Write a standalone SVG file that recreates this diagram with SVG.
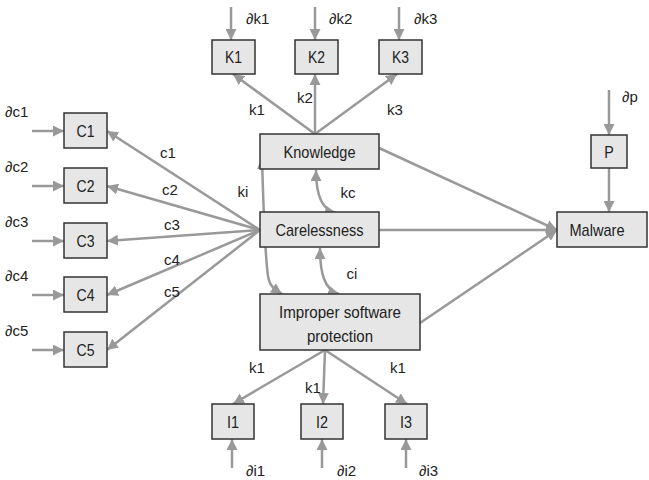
<svg xmlns="http://www.w3.org/2000/svg" width="649" height="480" viewBox="0 0 649 480">
<defs>
<marker id="ah" viewBox="0 0 10 10" refX="10" refY="5" markerWidth="11" markerHeight="11" markerUnits="userSpaceOnUse" orient="auto-start-reverse"><path d="M0,0 L10,5 L0,10 z" fill="#999"/></marker>
<style>
.box{fill:#e6e6e6;stroke:#333;stroke-width:1.5}
.t{font-family:"Liberation Sans",Arial,sans-serif;font-size:17px;fill:#222;text-anchor:middle}
.l{font-family:"Liberation Sans",Arial,sans-serif;font-size:15px;fill:#222}
.c{font-family:"Liberation Sans",Arial,sans-serif;font-size:15px;fill:#222;text-anchor:middle}
.e{fill:none;stroke:#999;stroke-width:2.5;marker-end:url(#ah)}
.b{fill:none;stroke:#999;stroke-width:2.5;marker-end:url(#ah);marker-start:url(#ah)}
</style>
</defs>
<rect width="649" height="480" fill="#fff"/>
<g id="connectors">
<path class="e" d="M231,7 L231,40"/>
<path class="e" d="M315,7 L315,40"/>
<path class="e" d="M399,7 L399,40"/>
<path class="e" d="M315,134 L233,74"/>
<path class="e" d="M315,134 L315,74"/>
<path class="e" d="M315,134 L397,74"/>
<path class="e" d="M260,230 L107,131"/>
<path class="e" d="M260,230 L107,186"/>
<path class="e" d="M260,230 L107,241"/>
<path class="e" d="M260,230 L107,295"/>
<path class="e" d="M260,230 L107,350"/>
<path class="e" d="M32,131 L64,131"/>
<path class="e" d="M32,186 L64,186"/>
<path class="e" d="M32,241 L64,241"/>
<path class="e" d="M32,295 L64,295"/>
<path class="e" d="M32,350 L64,350"/>
<path class="e" d="M379,148 L557,230"/>
<path class="e" d="M379,230 L557,230"/>
<path class="e" d="M420,323 L557,230"/>
<path class="e" d="M609,90 L609,135"/>
<path class="e" d="M609,168 L609,212"/>
<path class="e" d="M325,350 L233,404"/>
<path class="e" d="M325,350 L323,404"/>
<path class="e" d="M325,350 L407,404"/>
<path class="e" d="M232,468 L232,439"/>
<path class="e" d="M322,468 L322,439"/>
<path class="e" d="M406,468 L406,439"/>
<path class="b" d="M262,158 C264,230 266,262 268,276 C270,288 276,290 282,294"/>
<path class="b" d="M316,170 C316,192 320,210 336,213"/>
<path class="b" d="M320,248 C320,272 324,290 339,294"/>
</g>
<g id="K1"><rect class="box" x="212" y="40" width="43" height="34"/><text class="t" x="233.5" y="63" textLength="17" lengthAdjust="spacingAndGlyphs">K1</text></g>
<g id="K2"><rect class="box" x="295" y="40" width="43" height="34"/><text class="t" x="316.5" y="63" textLength="17" lengthAdjust="spacingAndGlyphs">K2</text></g>
<g id="K3"><rect class="box" x="379" y="40" width="43" height="34"/><text class="t" x="400.5" y="63" textLength="17" lengthAdjust="spacingAndGlyphs">K3</text></g>
<g id="Knowledge"><rect class="box" x="260" y="134" width="119" height="35"/><text class="t" x="319.5" y="158" textLength="72" lengthAdjust="spacingAndGlyphs">Knowledge</text></g>
<g id="Carelessness"><rect class="box" x="260" y="212" width="119" height="35"/><text class="t" x="319.5" y="236" textLength="88" lengthAdjust="spacingAndGlyphs">Carelessness</text></g>
<g id="Improper"><rect class="box" x="260" y="294" width="160" height="56"/><text class="t" x="340" y="318" textLength="122" lengthAdjust="spacingAndGlyphs">Improper software</text><text class="t" x="340" y="342" textLength="66" lengthAdjust="spacingAndGlyphs">protection</text></g>
<g id="Malware"><rect class="box" x="557" y="212" width="90" height="35"/><text class="t" x="597" y="236" textLength="55" lengthAdjust="spacingAndGlyphs">Malware</text></g>
<g id="P"><rect class="box" x="591" y="135" width="36" height="33"/><text class="t" x="609" y="158" textLength="9.5" lengthAdjust="spacingAndGlyphs">P</text></g>
<g id="C1"><rect class="box" x="64" y="113" width="43" height="35"/><text class="t" x="85.5" y="137" textLength="18" lengthAdjust="spacingAndGlyphs">C1</text></g>
<g id="C2"><rect class="box" x="64" y="168" width="43" height="35"/><text class="t" x="85.5" y="192" textLength="18" lengthAdjust="spacingAndGlyphs">C2</text></g>
<g id="C3"><rect class="box" x="64" y="223" width="43" height="35"/><text class="t" x="85.5" y="247" textLength="18" lengthAdjust="spacingAndGlyphs">C3</text></g>
<g id="C4"><rect class="box" x="64" y="277" width="43" height="35"/><text class="t" x="85.5" y="301" textLength="18" lengthAdjust="spacingAndGlyphs">C4</text></g>
<g id="C5"><rect class="box" x="64" y="332" width="43" height="35"/><text class="t" x="85.5" y="356" textLength="18" lengthAdjust="spacingAndGlyphs">C5</text></g>
<g id="I1"><rect class="box" x="212" y="404" width="42" height="35"/><text class="t" x="233" y="428" textLength="12" lengthAdjust="spacingAndGlyphs">I1</text></g>
<g id="I2"><rect class="box" x="301" y="404" width="42" height="35"/><text class="t" x="322" y="428" textLength="12" lengthAdjust="spacingAndGlyphs">I2</text></g>
<g id="I3"><rect class="box" x="385" y="404" width="42" height="35"/><text class="t" x="406" y="428" textLength="12" lengthAdjust="spacingAndGlyphs">I3</text></g>
<g id="labels">
<text class="l" x="246" y="24">∂k1</text>
<text class="l" x="329" y="24">∂k2</text>
<text class="l" x="414" y="24">∂k3</text>
<text class="l" x="622" y="102">∂p</text>
<text class="l" x="5" y="117">∂c1</text>
<text class="l" x="5" y="172">∂c2</text>
<text class="l" x="5" y="227">∂c3</text>
<text class="l" x="5" y="281">∂c4</text>
<text class="l" x="5" y="336">∂c5</text>
<text class="l" x="246" y="476">∂i1</text>
<text class="l" x="337" y="476">∂i2</text>
<text class="l" x="419" y="476">∂i3</text>
<text class="c" x="257" y="115">k1</text>
<text class="c" x="305" y="103">k2</text>
<text class="c" x="395" y="115">k3</text>
<text class="c" x="348" y="198">kc</text>
<text class="c" x="352" y="279">ci</text>
<text class="c" x="243" y="197">ki</text>
<text class="c" x="168" y="158">c1</text>
<text class="c" x="170" y="195">c2</text>
<text class="c" x="172" y="230">c3</text>
<text class="c" x="172" y="265">c4</text>
<text class="c" x="172" y="297">c5</text>
<text class="c" x="257" y="373">k1</text>
<text class="c" x="313" y="393">k1</text>
<text class="c" x="398" y="373">k1</text>
</g>
</svg>
